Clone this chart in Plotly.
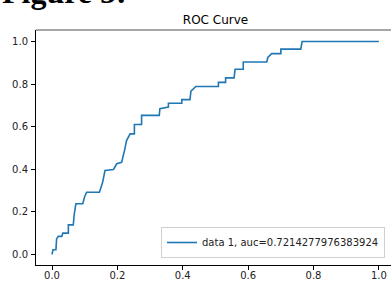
import plotly.graph_objects as go

fpr = [0, 0.003, 0.012, 0.014, 0.019, 0.03, 0.033, 0.05, 0.05, 0.065, 0.068, 0.073,
       0.094, 0.1, 0.106, 0.145, 0.15, 0.155, 0.162, 0.188, 0.198, 0.213, 0.222,
       0.228, 0.239, 0.252, 0.252, 0.274, 0.274, 0.328, 0.33, 0.356, 0.356, 0.397,
       0.397, 0.422, 0.425, 0.44, 0.509, 0.509, 0.531, 0.531, 0.557, 0.56, 0.585,
       0.585, 0.657, 0.66, 0.672, 0.7, 0.7, 0.761, 0.765, 1.0]
tpr = [0, 0.022, 0.022, 0.073, 0.085, 0.085, 0.1, 0.1, 0.139, 0.139, 0.19, 0.238,
       0.238, 0.272, 0.292, 0.292, 0.316, 0.34, 0.394, 0.399, 0.426, 0.433, 0.49,
       0.535, 0.566, 0.566, 0.61, 0.61, 0.653, 0.653, 0.684, 0.692, 0.71, 0.71,
       0.727, 0.727, 0.767, 0.789, 0.789, 0.808, 0.808, 0.829, 0.829, 0.87, 0.87,
       0.904, 0.904, 0.925, 0.943, 0.943, 0.964, 0.964, 1.0, 1.0]
auc_label = "data 1, auc=0.7214277976383924"
ticks = [0.0, 0.2, 0.4, 0.6, 0.8, 1.0]
tick_text = ["0.0", "0.2", "0.4", "0.6", "0.8", "1.0"]

W, H = 391, 281
ML, MR, MT, MB = 36, 0, 30, 16
pw = W - ML - MR
ph = H - MT - MB

fig = go.Figure()
fig.add_trace(go.Scatter(x=fpr, y=tpr, mode="lines", name=auc_label,
                         line=dict(color="#1f77b4", width=1.6)))

axis_common = dict(showgrid=False, zeroline=False, ticks="outside", ticklen=4,
                   tickwidth=1, tickcolor="#000", showline=True, linecolor="#000",
                   linewidth=1, tickvals=ticks, ticktext=tick_text, automargin=False,
                   tickfont=dict(family="DejaVu Sans", size=10, color="#222"))
fig.update_xaxes(range=[-0.049, 1.037], ticklabelstandoff=-3, **axis_common)
fig.update_yaxes(range=[-0.0495, 1.054], ticklabelstandoff=1, **axis_common)

fig.update_layout(
    width=W, height=H,
    margin=dict(l=ML, r=MR, t=MT, b=MB, autoexpand=False),
    plot_bgcolor="white", paper_bgcolor="white",
    title=dict(text="ROC Curve", x=215.5 / W, xanchor="center",
               y=1 - 19.5 / H, yanchor="middle", automargin=False,
               font=dict(family="DejaVu Sans", size=12, color="#000")),
    showlegend=True,
    legend=dict(x=(385 - ML) / pw, xanchor="right", y=(265 - 258) / ph,
                yanchor="bottom", bgcolor="white", bordercolor="#d0d0d0", borderwidth=1,
                font=dict(family="DejaVu Sans", size=10, color="#222"),
                itemwidth=30),
    shapes=[dict(type="line", xref="paper", yref="paper", x0=0, x1=1, y0=1, y1=1,
                 line=dict(color="#888", width=1.5))],
    annotations=[dict(text="<b>Figure 5:</b>", xref="paper", yref="paper",
                      x=-ML / pw, xanchor="left", y=1 + (MT - 12) / ph,
                      yanchor="bottom", showarrow=False,
                      font=dict(family="Liberation Serif", size=32, color="#000"))],
)

fig.write_html("out.html", config={"displayModeBar": False},
               post_script="document.body.style.margin='0';document.body.style.overflow='hidden';")
